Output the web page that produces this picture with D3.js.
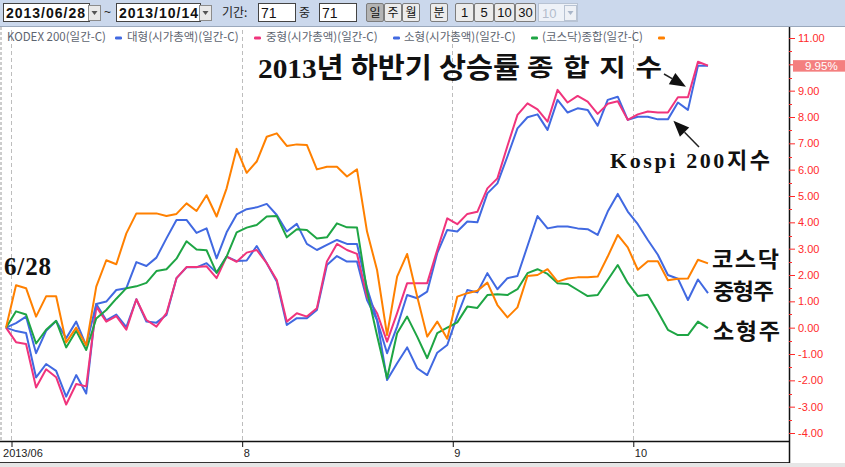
<!DOCTYPE html>
<html><head><meta charset="utf-8">
<script src="https://cdn.jsdelivr.net/npm/d3@7"></script>
<style>html,body{margin:0;padding:0;background:#fff;overflow:hidden}</style>
</head><body><svg id="c" width="845" height="467"></svg>
<script>
// ---------------- DATA ----------------
const startDate = "2013/06/28";
const endDate = "2013/10/14";
const periodDays = "71";
const seriesNames = ["KODEX 200(일간-C)", "대형(시가총액)(일간-C)", "중형(시가총액)(일간-C)", "소형(시가총액)(일간-C)", "(코스닥)종합(일간-C)"];
const kodex200 = [0,-0.13,-0.20,-1.89,-1.38,-1.64,-2.62,-1.80,-2.50,0.90,
 0.28,0.50,0.02,1.08,0.23,0.19,0.48,1.88,2.29,2.29,
 2.45,2.09,2.70,2.53,2.55,3.10,2.45,1.75,0.10,0.36,
 0.36,0.67,2.38,2.72,2.51,2.51,1.05,0.29,-0.97,0.04,
 1.24,1.12,1.37,2.83,3.71,3.65,4.03,4.00,5.10,5.48,
 6.50,7.57,7.99,8.10,7.51,8.65,8.17,8.33,8.27,7.67,
 8.65,8.77,7.89,8.01,8.01,7.91,7.91,8.55,8.27,9.95,9.95];
const largeCap = [0,-0.55,-0.62,-2.27,-1.58,-1.88,-2.92,-2.14,-2.23,0.80,
 0.23,0.44,-0.08,1.08,0.29,0.04,0.55,1.88,2.30,2.30,
 2.33,1.88,2.70,2.50,2.85,2.95,2.45,1.81,0.23,0.55,
 0.42,0.74,2.51,3.18,2.95,2.80,1.18,0.55,-0.53,0.55,
 1.69,1.69,1.69,2.95,4.15,3.93,4.32,4.40,5.29,5.67,
 6.90,8.08,8.52,8.29,7.82,9.03,8.55,8.80,8.58,8.12,
 8.50,8.60,7.89,8.10,8.21,8.17,8.17,8.75,8.75,10.10,9.95];
const midCap = [0,0.17,0.42,-0.97,-0.12,0.25,-0.40,0.23,-0.68,0.90,
 0.99,1.43,1.50,2.49,2.34,2.66,3.39,4.09,4.09,3.60,
 3.77,2.63,3.62,4.30,4.50,4.57,4.70,4.28,3.65,3.94,
 3.18,2.95,3.14,3.33,3.18,3.18,1.50,0.29,-1.99,-1.35,
 -0.75,-1.54,-1.80,-0.95,-0.66,0.45,1.43,1.34,2.07,1.46,
 1.88,1.96,3.10,4.24,3.77,3.84,3.84,3.77,3.74,3.52,
 4.41,5.08,4.41,3.93,3.33,2.77,2.00,1.86,1.05,1.83,1.31];
const smallCap = [0,0.62,0.50,-0.60,-0.08,0.26,-0.75,-0.12,-0.85,0.35,
 0.67,1.10,1.50,1.57,1.70,2.15,2.22,2.62,3.28,2.97,
 2.94,2.08,2.70,3.62,3.80,3.90,4.22,4.24,3.43,3.74,
 3.71,3.39,3.43,3.96,3.81,3.80,1.40,-0.30,-1.92,-0.21,
 0.42,-0.34,-1.16,-0.21,0.00,0.20,0.80,0.75,1.24,1.27,
 1.24,1.46,2.07,2.22,2.04,1.69,1.66,1.43,1.20,1.24,
 1.81,2.38,1.70,1.20,1.25,0.60,-0.08,-0.28,-0.28,0.23,-0.02];
const kosdaq = [0,1.61,1.50,0.42,1.19,1.19,-0.56,0.00,-0.67,1.56,
 2.56,2.41,3.58,4.34,4.34,4.34,4.24,4.32,4.72,4.43,
 5.03,4.22,5.29,6.79,5.88,6.31,7.25,7.38,6.90,6.96,
 6.94,6.01,6.11,6.11,5.74,6.01,3.65,2.19,-0.28,1.94,
 2.80,1.18,-0.34,0.23,-0.42,1.18,1.31,1.40,1.71,0.86,
 0.39,0.77,1.96,2.00,2.22,1.75,1.87,1.91,1.91,1.94,
 2.70,3.52,3.05,2.20,2.52,2.52,1.80,1.86,1.87,2.58,2.44];
// month boundaries (between trading-day indices) and their labels
const monthTickIdx = [0.5, 23.5, 44.5, 62.5];
const monthTickLabels = ["2013/06", "8", "9", "10"];
const yTickValues = [-4,-3,-2,-1,0,1,2,3,4,5,6,7,8,9,10,11];
const buttons1 = ["일","주","월","분"];
const buttons2 = ["1","5","10","30"];

// ---------------- SETUP ----------------
const colors = ["#4169e1", "#f0347c", "#4169e1", "#1ea544", "#ff8000"];
const allSeries = [kodex200, largeCap, midCap, smallCap, kosdaq];
const KR = "'Noto Sans CJK KR', sans-serif";
const LAT = "'Liberation Sans', Arial, sans-serif";
const SER = "'Liberation Serif', 'Noto Sans CJK KR', serif";

const svg = d3.select("#c");
const x = d3.scaleLinear().domain([0, kodex200.length - 1]).range([6, 708]);
const y = d3.scaleLinear().domain([-4, 11]).range([433, 38]);
const plotRight = 789, axisY = 441, bottomY = 462, plotTop = 27;

// ---------------- TOOLBAR ----------------
const tb = svg.append("g");
tb.append("rect").attr("x",0).attr("y",0).attr("width",845).attr("height",26).attr("fill","#cbd8ec");
tb.append("line").attr("x1",0).attr("x2",845).attr("y1",26.5).attr("y2",26.5).attr("stroke","#9aa8bc");
function dropBtn(x0, disabled){
  tb.append("rect").attr("x",x0+0.5).attr("y",5.5).attr("width",12).attr("height",15)
    .attr("fill", disabled ? "#eef1f6" : "#e9e9e9").attr("stroke", disabled ? "#b8c3d3" : "#8c8c8c");
  tb.append("path").attr("d",`M${x0+3.5},11 L${x0+9.5},11 L${x0+6.5},15 Z`).attr("fill", disabled?"#a9b6c9":"#555");
}
function inBox(x0, w, txt, fw, tl){
  tb.append("rect").attr("x",x0+0.5).attr("y",3.5).attr("width",w).attr("height",18).attr("fill","#fff").attr("stroke","#444");
  const t = tb.append("text").attr("x",x0+3).attr("y",17.5).attr("font-family",LAT).attr("font-size",14)
    .attr("font-weight",fw||"normal").attr("fill","#111").text(txt);
  if (tl) t.attr("textLength",tl);
}
inBox(3, 86, startDate, "bold", 79); dropBtn(88);
tb.append("text").attr("x",104).attr("y",16).attr("font-family",LAT).attr("font-size",12).attr("fill","#222").text("~");
inBox(116, 84, endDate, "bold", 79); dropBtn(199);
tb.append("text").attr("x",222).attr("y",17).attr("font-family",KR).attr("font-size",12).attr("fill","#222").text("기간:");
inBox(258, 37, periodDays);
tb.append("text").attr("x",299).attr("y",17).attr("font-family",KR).attr("font-size",12).attr("fill","#222").text("중");
inBox(319, 37, periodDays);
const b1x = [366, 384, 402, 430];
buttons1.forEach((b,i)=>{
  tb.append("rect").attr("x",b1x[i]+0.5).attr("y",3.5).attr("width",17).attr("height",18)
    .attr("fill", i===0 ? "#b4b4b4" : "#ececec").attr("stroke","#7d7d7d").attr("rx",1.5);
  tb.append("text").attr("x",b1x[i]+9).attr("y",17).attr("text-anchor","middle").attr("font-family",KR)
    .attr("font-size",12).attr("fill","#111").text(b);
});
const b2x = [455, 474, 494, 515], b2w = [18, 19, 20, 20];
buttons2.forEach((b,i)=>{
  tb.append("rect").attr("x",b2x[i]+0.5).attr("y",3.5).attr("width",b2w[i]).attr("height",18)
    .attr("fill","#ececec").attr("stroke","#7d7d7d").attr("rx",1.5);
  tb.append("text").attr("x",b2x[i]+b2w[i]/2+0.5).attr("y",17).attr("text-anchor","middle").attr("font-family",LAT)
    .attr("font-size",13).attr("fill","#111").text(b);
});
tb.append("rect").attr("x",538.5).attr("y",3.5).attr("width",39).attr("height",18).attr("fill","#eef2f8").attr("stroke","#b8c3d3");
tb.append("text").attr("x",542).attr("y",17.5).attr("font-family",LAT).attr("font-size",13).attr("fill","#b3bdcc").text("10");
dropBtn(564, true);

// ---------------- PLOT FRAME ----------------
const g = svg.append("g");
g.append("line").attr("x1",1).attr("x2",1).attr("y1",plotTop).attr("y2",axisY)
  .attr("stroke","#9a9a9a").attr("stroke-dasharray","3,2");
g.selectAll("line.grid").data(monthTickIdx).join("line").attr("class","grid")
  .attr("x1",d=>Math.round(x(d))+0.5).attr("x2",d=>Math.round(x(d))+0.5)
  .attr("y1",plotTop+3).attr("y2",axisY)
  .attr("stroke","#bdbdbd").attr("stroke-dasharray","4,3");

// ---------------- LEGEND ----------------
const legX = [7, 127, 266, 404, 542];
const legMarkX = [115, 254, 393, 531, 658];
const lg = svg.append("g");
seriesNames.forEach((n,i)=>{
  lg.append("text").attr("x",legX[i]).attr("y",41).attr("font-family",KR).attr("font-size",11.5)
    .attr("fill","#5d6470").text(n);
  lg.append("rect").attr("x",legMarkX[i]).attr("y",36.5).attr("width",7).attr("height",3).attr("rx",1.2)
    .attr("fill",colors[i]);
});

// ---------------- LINES ----------------
const line = d3.line().x((d,i)=>x(i)).y(d=>y(d));
const lg2 = svg.append("g");
allSeries.forEach((s,i)=>{
  lg2.append("path").datum(s).attr("d",line).attr("fill","none").attr("stroke",colors[i])
    .attr("stroke-width",2).attr("stroke-linejoin","round");
});

// ---------------- AXES ----------------
svg.append("rect").attr("x",0).attr("y",axisY).attr("width",plotRight).attr("height",bottomY-axisY).attr("fill","#fff");
const xAxis = d3.axisBottom(x).tickValues(monthTickIdx).tickFormat((d,i)=>monthTickLabels[i]).tickSize(6).tickPadding(3);
const xg = svg.append("g").attr("transform",`translate(0.5,${axisY})`).call(xAxis);
xg.select(".domain").remove();
xg.selectAll(".tick line").attr("stroke","#111");
xg.selectAll(".tick text").attr("font-family",LAT).attr("font-size",11).attr("fill","#222")
  .attr("text-anchor","start").attr("dx",(d,i)=> i===0 ? -9 : 1).attr("dy","0.6em");
svg.append("line").attr("x1",0).attr("x2",plotRight).attr("y1",axisY+0.5).attr("y2",axisY+0.5).attr("stroke","#111").attr("stroke-width",1.5);
svg.append("line").attr("x1",0).attr("x2",plotRight).attr("y1",bottomY+0.5).attr("y2",bottomY+0.5).attr("stroke","#333");
svg.append("rect").attr("x",0).attr("y",bottomY+1).attr("width",845).attr("height",467-bottomY-1).attr("fill","#e6e6e6");
svg.append("line").attr("x1",plotRight+0.5).attr("x2",plotRight+0.5).attr("y1",plotTop).attr("y2",bottomY+1)
  .attr("stroke","#111").attr("stroke-width",1.5);

// y axis (right)
const lastVal = largeCap[largeCap.length-1];
const yAxis = d3.axisRight(y).tickValues(yTickValues).tickFormat(d=>d.toFixed(2)).tickSize(6).tickPadding(3);
const yg = svg.append("g").attr("transform",`translate(${plotRight},0)`).call(yAxis);
yg.select(".domain").remove();
yg.selectAll(".tick line").attr("stroke","#ff2a2a");
yg.selectAll(".tick text").attr("font-family",LAT).attr("font-size",11).attr("fill","#ff2a2a");
yg.selectAll(".tick").filter(d => Math.abs(y(d) - y(lastVal)) < 9).select("text").remove();
const minor = d3.range(-3.5, 11, 1);
yg.selectAll("line.minor").data(minor).join("line").attr("class","minor")
  .attr("x1",0).attr("x2",3).attr("y1",d=>Math.round(y(d))+0.5).attr("y2",d=>Math.round(y(d))+0.5).attr("stroke","#ff2a2a");

svg.append("rect").attr("x",793).attr("y",y(lastVal)-5.5).attr("width",52).attr("height",11.5).attr("fill","#f47f7f");
svg.append("text").attr("x",805).attr("y",y(lastVal)+4.5).attr("font-family",LAT).attr("font-size",11.5).attr("fill","#fff")
  .text(lastVal.toFixed(2)+"%");

// ---------------- ANNOTATIONS ----------------
const an = svg.append("g").attr("fill","#111");
function ann(txt, xx, yy, size, len, weight, sx){
  sx = sx || 1;
  an.append("text").attr("x",0).attr("y",0).attr("font-family",SER).attr("font-size",size)
    .attr("transform",`translate(${xx},${yy}) scale(${sx},1)`)
    .attr("font-weight",weight||"bold").attr("textLength",len/sx).attr("lengthAdjust","spacing").text(txt);
}
ann("2013년 하반기 상승률", 258, 78, 28, 262, "bold", 1.05);
ann("종합지수", 527, 76, 24, 135, "bold", 1.2);
ann("Kospi 200지수", 610, 168, 22, 160, "bold");
ann("코스닥", 712, 267, 22, 67, "bold", 1.05);
ann("중형주", 713, 299, 22, 61, "bold", 1.05);
ann("소형주", 713, 339, 22, 67, "bold", 1.05);
ann("6/28", 4, 275, 25, 47, "bold");

function arrow(x1,y1,x2,y2){
  const a = Math.atan2(y2-y1, x2-x1), L = 16, W = 6.5;
  const bx = x2 - L*Math.cos(a), by = y2 - L*Math.sin(a);
  an.append("line").attr("x1",x1).attr("y1",y1).attr("x2",bx).attr("y2",by).attr("stroke","#222").attr("stroke-width",1.5);
  an.append("path").attr("d",`M${x2},${y2} L${bx - W*Math.sin(a)},${by + W*Math.cos(a)} L${bx + W*Math.sin(a)},${by - W*Math.cos(a)} Z`).attr("fill","#111");
}
arrow(664, 74, x(67.8), y(9.15));
arrow(699, 147, x(66.55), y(7.86));
</script>
</body></html>
